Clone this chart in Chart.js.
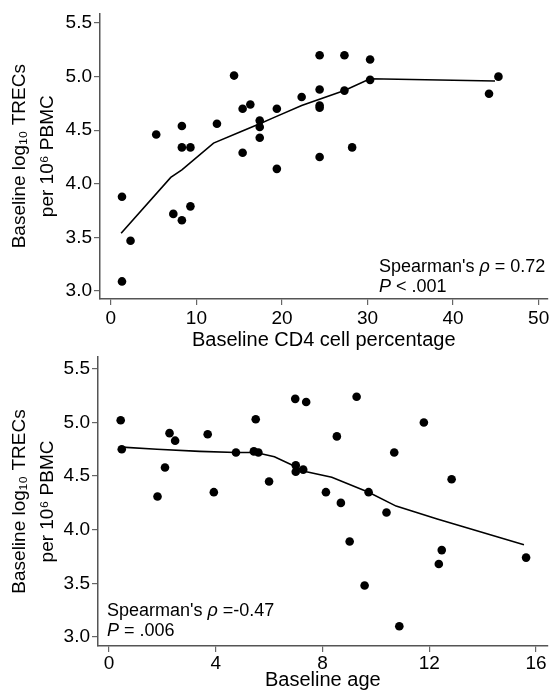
<!DOCTYPE html>
<html>
<head>
<meta charset="utf-8">
<title>Baseline TRECs</title>
<script src="https://cdn.jsdelivr.net/npm/chart.js@4.4.1/dist/chart.umd.min.js"></script>
<style>
  html, body { margin:0; padding:0; background:#fff; }
  #wrap { position:relative; width:552px; height:694px; overflow:hidden; }
  .panel { position:absolute; left:0; width:552px; }
  #topPanel { top:0; height:360px; }
  #bottomPanel { top:340px; height:354px; }
</style>
</head>
<body>
<div id="wrap">
  <div class="panel" id="topPanel"><canvas id="cd4Chart" width="552" height="360"></canvas></div>
  <div class="panel" id="bottomPanel"><canvas id="ageChart" width="552" height="354"></canvas></div>
</div>
<script>
/* ===== Data ===== */
// top panel: baseline CD4 %
const cd4Pct  = [5.3, 8.3, 8.3, 9.3, 12.4, 14.4, 15.4, 16.3, 17.4, 17.4, 17.4, 15.4, 19.4, 24.4, 27.3, 30.3, 30.3,
                 27.3, 24.4, 22.3, 24.4, 24.4, 45.3, 44.2, 28.2, 24.4, 19.4, 1.3, 2.3, 1.3, 7.3, 8.3, 9.3];
const cd4Trec = [4.46, 4.54, 4.34, 4.34, 4.56, 5.01, 4.70, 4.74, 4.59, 4.53, 4.43, 4.29, 4.70, 5.20, 5.20, 5.16, 4.97,
                 4.87, 4.88, 4.81, 4.71, 4.73, 5.00, 4.84, 4.34, 4.25, 4.14, 3.88, 3.47, 3.09, 3.72, 3.66, 3.79];
const cd4FitX = [1.2, 7.0, 8.3, 12.0, 15.3, 17.4, 19.1, 22.3, 27.3, 30.3, 44.9];
const cd4FitY = [3.54, 4.06, 4.13, 4.38, 4.49, 4.56, 4.62, 4.73, 4.87, 4.98, 4.96];
const cd4Ticks = [0, 10, 20, 30, 40, 50];

// bottom panel: baseline age
const ageYrs  = [0.44, 0.48, 2.27, 2.48, 2.1, 1.82, 3.7, 3.93, 4.76, 5.5, 5.43, 5.6, 6.0, 6.98, 7.39, 9.28, 11.8,
                 8.54, 10.69, 12.84, 7.0, 7.0, 7.28, 8.13, 8.69, 9.73, 10.4, 9.02, 12.47, 12.36, 15.63, 9.58, 10.88];
const ageTrec = [5.02, 4.75, 4.90, 4.83, 4.58, 4.31, 4.89, 4.35, 4.72, 5.03, 4.73, 4.72, 4.45, 5.22, 5.19, 5.24, 5.00,
                 4.87, 4.72, 4.47, 4.60, 4.54, 4.56, 4.35, 4.25, 4.35, 4.16, 3.89, 3.81, 3.68, 3.74, 3.48, 3.10];
const ageFitX = [0.48, 1.8, 3.4, 4.76, 5.5, 6.2, 7.4, 8.35, 9.73, 10.76, 12.3, 15.55];
const ageFitY = [4.77, 4.75, 4.73, 4.72, 4.72, 4.68, 4.54, 4.49, 4.35, 4.22, 4.10, 3.86];
const ageTicks = [0, 4, 8, 12, 16];

const trecTicks = [3.0, 3.5, 4.0, 4.5, 5.0, 5.5];
const trecTitle = ["Baseline log\u2081\u2080 TRECs", "per 10\u2076 PBMC"];

/* ===== Helpers ===== */
const FONT = '"Liberation Sans", Arial, Helvetica, sans-serif';
Chart.defaults.font.family = FONT;
Chart.defaults.color = "#000";

const zip = (xs, ys) => xs.map((x, i) => ({ x, y: ys[i] }));

// draws the Spearman note, with italic pieces
const statNote = {
  id: "statNote",
  afterDraw(chart, args, opts){
    if(!opts || !opts.lines) return;
    const ctx = chart.ctx;
    ctx.save();
    ctx.fillStyle = "#000";
    ctx.textBaseline = "alphabetic";
    opts.lines.forEach((line, i) => {
      let x = opts.x;
      const y = opts.y + i * opts.gap;
      line.forEach(seg => {
        ctx.font = (seg.italic ? "italic " : "") + opts.size + "px " + FONT;
        ctx.fillText(seg.text, x, y);
        x += ctx.measureText(seg.text).width;
      });
    });
    ctx.restore();
  }
};

function axisBase(){
  return {
    type: "linear",
    grid: { drawOnChartArea:false, drawTicks:true, tickLength:6, color:"#666", lineWidth:1.2 },
    border: { display:true, color:"#555", width:1.5 },
  };
}

function buildChart(id, c){
  const x = axisBase(), y = axisBase();

  Object.assign(x, {
    min: c.xMin, max: c.xMax,
    afterBuildTicks: s => { s.ticks = c.xTicks.map(v => ({ value:v })); },
    afterFit: s => { s.height = c.xHeight; },
    ticks: { font:{ size:19 }, padding:c.xTickPad, autoSkip:false, maxRotation:0, callback: v => String(v) },
    title: { display:true, text:c.xTitle, font:{ size:20 }, padding:{ top:0, bottom:c.xTitlePad } }
  });

  Object.assign(y, {
    min: c.yMin, max: c.yMax,
    afterBuildTicks: s => { s.ticks = trecTicks.map(v => ({ value:v })); },
    afterFit: s => { s.width = c.yWidth; },
    ticks: { font:{ size:19 }, padding:2, autoSkip:false, callback: v => Number(v).toFixed(1) },
    title: { display:true, text:trecTitle, font:{ size:19, lineHeight:1.45 }, padding:{ top:6, bottom:0 } }
  });

  return new Chart(document.getElementById(id), {
    type: "scatter",
    data: {
      datasets: [
        { data: c.points, pointRadius:4.3, pointHoverRadius:4.3, pointBackgroundColor:"#000", pointBorderWidth:0 },
        { type:"line", data: c.fit, borderColor:"#000", borderWidth:1.6, pointRadius:0, tension:0, fill:false }
      ]
    },
    options: {
      responsive:false,
      animation:false,
      layout: { padding:{ top:c.padTop, left:0, right:0, bottom:0 } },
      plugins: { legend:{ display:false }, tooltip:{ enabled:false }, statNote: c.note },
      scales: { x, y }
    },
    plugins: [statNote]
  });
}

/* ===== Init ===== */
window.addEventListener("DOMContentLoaded", () => {
  buildChart("cd4Chart", {
    points: zip(cd4Pct, cd4Trec),
    fit: zip(cd4FitX, cd4FitY),
    xTicks: cd4Ticks, xMin:-1.27, xMax:51.04,
    yMin:2.926, yMax:5.59,
    padTop:10, yWidth:100, xHeight:61, xTickPad:2.7, xTitlePad:8,
    xTitle: "Baseline CD4 cell percentage",
    note: {
      x:379, y:272, gap:20, size:18,
      lines: [
        [{ text:"Spearman's " }, { text:"\u03C1", italic:true }, { text:" = 0.72" }],
        [{ text:"P", italic:true }, { text:" < .001" }]
      ]
    }
  });

  buildChart("ageChart", {
    points: zip(ageYrs, ageTrec),
    fit: zip(ageFitX, ageFitY),
    xTicks: ageTicks, xMin:-0.41, xMax:16.44,
    yMin:2.916, yMax:5.61,
    padTop:17, yWidth:98, xHeight:48, xTickPad:0.5, xTitlePad:2,
    xTitle: "Baseline age",
    note: {
      x:107, y:276, gap:20, size:18,
      lines: [
        [{ text:"Spearman's " }, { text:"\u03C1", italic:true }, { text:" =-0.47" }],
        [{ text:"P", italic:true }, { text:" = .006" }]
      ]
    }
  });
});
</script>
</body>
</html>
